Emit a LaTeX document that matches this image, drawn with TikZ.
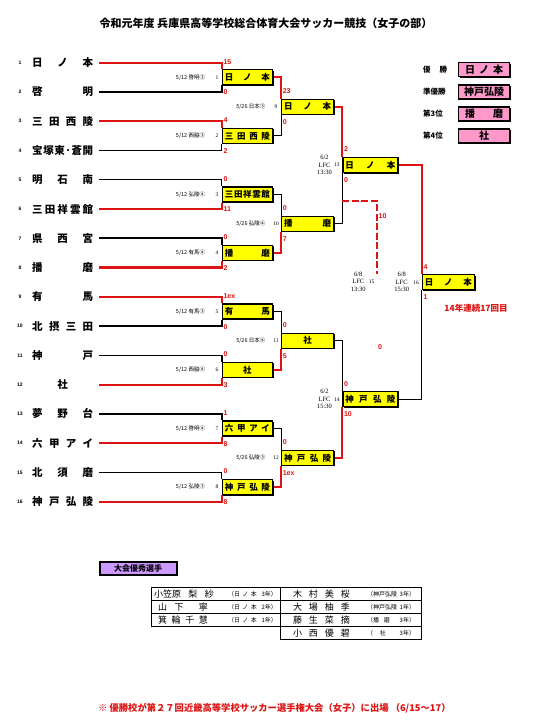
\documentclass[tikz,border=0pt]{standalone}
\usepackage{fontspec}
\setmainfont{Noto Sans CJK JP}
\newfontfamily\lat{Liberation Sans}
\newfontfamily\ser{Liberation Serif}
\usetikzlibrary{backgrounds,shadows}
\definecolor{rd}{RGB}{222,20,20}
\definecolor{pk}{RGB}{255,153,204}
\definecolor{pu}{RGB}{204,153,255}
\definecolor{yl}{RGB}{255,255,0}
\newcommand{\spr}[2]{\makebox[#1][s]{#2}}
\begin{document}
\begin{tikzpicture}[x=1pt,y=-1pt,
 team/.style={inner sep=0pt, anchor=west, font=\fontsize{10.5}{11}\selectfont\bfseries},
 tnum/.style={inner sep=0pt, font=\lat\fontsize{5}{6}\selectfont\bfseries},
 wbox/.style={draw, line width=1.2pt, fill=yl, inner sep=0pt, minimum height=15pt, anchor=west,
   font=\fontsize{8.5}{9}\selectfont\bfseries,
   drop shadow={shadow xshift=0.9pt, shadow yshift=-0.9pt, opacity=1, fill=black}},
 b1/.style={wbox, minimum width=50.3pt},
 b2/.style={wbox, minimum width=52pt},
 b3/.style={wbox, minimum width=55pt},
 b4/.style={wbox, minimum width=52.3pt},
 sc/.style={inner sep=0pt, anchor=west, text=rd, font=\lat\fontsize{7}{8}\selectfont\bfseries},
 dt/.style={inner sep=0pt, anchor=east, font=\fontsize{5.5}{6}\selectfont},
 mn/.style={inner sep=0pt, font=\ser\fontsize{5.5}{6}\selectfont},
 lfc/.style={inner sep=0pt, align=center, font=\ser\fontsize{6.5}{7.5}\selectfont},
 wl/.style={draw=rd, line width=2.2pt},
 ll/.style={draw=black, line width=1.7pt},
 llt/.style={draw=black, line width=1pt},
 cl/.style={draw=black, line width=1pt},
 lg/.style={inner sep=0pt, anchor=west, font=\fontsize{7.5}{8}\selectfont\bfseries},
 pbox/.style={draw, line width=1.2pt, fill=pk, inner sep=0pt, minimum width=51pt, minimum height=14pt, anchor=west,
   font=\fontsize{10}{11}\selectfont\bfseries,
   drop shadow={shadow xshift=0.9pt, shadow yshift=-0.9pt, opacity=1, fill=black}},
 nm/.style={inner sep=0pt, font=\fontsize{9}{10}\selectfont},
 af/.style={inner sep=0pt, font=\fontsize{6}{7}\selectfont},
]
\useasboundingbox (0,0) rectangle (533,724);

% title
\node[font=\fontsize{11}{12}\selectfont\bfseries] (title) at (266,23) {令和元年度 兵庫県高等学校総合体育大会サッカー競技（女子の部）};

% teams
\node[tnum] (n1) at (20,62.70) {1};
\node[tnum] (n2) at (20,91.97) {2};
\node[tnum] (n3) at (20,121.24) {3};
\node[tnum] (n4) at (20,150.51) {4};
\node[tnum] (n5) at (20,179.78) {5};
\node[tnum] (n6) at (20,209.05) {6};
\node[tnum] (n7) at (20,238.32) {7};
\node[tnum] (n8) at (20,267.59) {8};
\node[tnum] (n9) at (20,296.86) {9};
\node[tnum] (n10) at (20,326.13) {10};
\node[tnum] (n11) at (20,355.40) {11};
\node[tnum] (n12) at (20,384.67) {12};
\node[tnum] (n13) at (20,413.94) {13};
\node[tnum] (n14) at (20,443.21) {14};
\node[tnum] (n15) at (20,472.48) {15};
\node[tnum] (n16) at (20,501.75) {16};

\node[team] (t1) at (32,62.70) {\spr{61pt}{日\hfill ノ\hfill 本}};
\node[team] (t2) at (32,91.97) {\spr{61pt}{啓\hfill 明}};
\node[team] (t3) at (32,121.24) {\spr{61pt}{三\hfill 田\hfill 西\hfill 陵}};
\node[team] (t4) at (32,150.51) {\spr{61pt}{宝\hfill 塚\hfill 東\hfill ･\hfill 蒼\hfill 開}};
\node[team] (t5) at (32,179.78) {\spr{61pt}{明\hfill 石\hfill 南}};
\node[team] (t6) at (32,209.05) {\spr{61pt}{三\hfill 田\hfill 祥\hfill 雲\hfill 館}};
\node[team] (t7) at (32,238.32) {\spr{61pt}{県\hfill 西\hfill 宮}};
\node[team] (t8) at (32,267.59) {\spr{61pt}{播\hfill 磨}};
\node[team] (t9) at (32,296.86) {\spr{61pt}{有\hfill 馬}};
\node[team] (t10) at (32,326.13) {\spr{61pt}{北\hfill 摂\hfill 三\hfill 田}};
\node[team] (t11) at (32,355.40) {\spr{61pt}{神\hfill 戸}};
\node[team] (t12) at (32,384.67) {\makebox[61pt][c]{社}};
\node[team] (t13) at (32,413.94) {\spr{61pt}{夢\hfill 野\hfill 台}};
\node[team] (t14) at (32,443.21) {\spr{61pt}{六\hfill 甲\hfill ア\hfill イ}};
\node[team] (t15) at (32,472.48) {\spr{61pt}{北\hfill 須\hfill 磨}};
\node[team] (t16) at (32,501.75) {\spr{61pt}{神\hfill 戸\hfill 弘\hfill 陵}};

% round 1 boxes
\node[b1] (m1) at (221.7,77.34) {\spr{45pt}{日\hfill ノ\hfill 本}};
\node[b1] (m2) at (221.7,135.88) {\spr{45pt}{三\hfill 田\hfill 西\hfill 陵}};
\node[b1] (m3) at (221.7,194.42) {\spr{45pt}{三\hfill 田\hfill 祥\hfill 雲\hfill 館}};
\node[b1] (m4) at (221.7,252.96) {\spr{45pt}{播\hfill 磨}};
\node[b1] (m5) at (221.7,311.50) {\spr{45pt}{有\hfill 馬}};
\node[b1] (m6) at (221.7,370.04) {社};
\node[b1] (m7) at (221.7,428.58) {\spr{45pt}{六\hfill 甲\hfill ア\hfill イ}};
\node[b1] (m8) at (221.7,487.12) {\spr{45pt}{神\hfill 戸\hfill 弘\hfill 陵}};
% round 2
\node[b2] (m9) at (281,106.61) {\spr{47pt}{日\hfill ノ\hfill 本}};
\node[b2] (m10) at (281,223.69) {\spr{47pt}{播\hfill 磨}};
\node[b2] (m11) at (281,340.77) {社};
\node[b2] (m12) at (281,457.85) {\spr{47pt}{神\hfill 戸\hfill 弘\hfill 陵}};
% round 3
\node[b3] (m13) at (342.3,165.15) {\spr{50pt}{日\hfill ノ\hfill 本}};
\node[b3] (m14) at (342.3,399.31) {\spr{50pt}{神\hfill 戸\hfill 弘\hfill 陵}};
% final
\node[b4] (m16) at (421.7,282.23) {\spr{47pt}{日\hfill ノ\hfill 本}};

% dates and match numbers
\foreach \m/\d in {1/啓明③,2/西脇③,3/弘陵④,4/有馬④,5/有馬③,6/西脇④,7/啓明④,8/弘陵③}{
  \node[dt] at ([xshift=-16.5pt]m\m.west) {5/12 \d};
  \node[mn] at ([xshift=-4.6pt]m\m.west) {\m};
}
\foreach \m/\d in {9/日本③,10/弘陵④,11/日本④,12/弘陵③}{
  \node[dt] at ([xshift=-15.5pt]m\m.west) {5/26 \d};
  \node[mn] at ([xshift=-5pt]m\m.west) {\m};
}
\node[lfc] at ([xshift=-17.8pt]m13.west) {6/2\\LFC\\13:30};
\node[mn] at ([xshift=-5.4pt]m13.west) {13};
\node[lfc] at ([xshift=-17.8pt]m14.west) {6/2\\LFC\\15:30};
\node[mn] at ([xshift=-5.4pt]m14.west) {14};
\node[lfc] at ([xshift=-20pt]m16.west) {6/8\\LFC\\15:30};
\node[mn] at ([xshift=-5.6pt]m16.west) {16};

% third place
\coordinate (d0) at (342.3,201);
\coordinate (d1) at (377,273.5);
\node[lfc] (l15) at (358.3,281.7) {6/8\\LFC\\13:30};
\node[mn] at (371.7,281.7) {15};
\node[sc] at (378.5,216) {10};
\node[sc] at (378,347) {0};

% scores
\foreach \m/\a/\b in {1/15/0,2/4/2,3/0/11,4/0/2,5/1ex/0,6/0/3,7/1/8,8/0/8,9/23/0,10/0/7,11/0/5,12/0/1ex,13/2/0,14/0/10,16/4/1}{
  \node[sc] at ([xshift=1.6pt,yshift=7.5pt]m\m.north west) {\a};
  \node[sc] at ([xshift=1.6pt,yshift=-7pt]m\m.south west) {\b};
}

\node[text=rd, font=\fontsize{8.5}{9}\selectfont\bfseries] (streak) at (476,308.3) {14年連続17回目};

% legend
\node[lg] (g1) at (423,69.7) {\spr{24pt}{優\hfill 勝}};
\node[lg] (g2) at (423,92) {準優勝};
\node[lg] (g3) at (423,114) {第3位};
\node[lg] (g4) at (423,136) {第4位};
\node[pbox] (p1) at (458,69.7) {\spr{38pt}{日\hfill ノ\hfill 本}};
\node[pbox] (p2) at (458,92) {神戸弘陵};
\node[pbox] (p3) at (458,114) {\spr{38pt}{播\hfill 磨}};
\node[pbox] (p4) at (458,136) {社};

% excellent players
\node[draw, line width=2pt, fill=pu, minimum width=77pt, minimum height=13pt, inner sep=0pt, anchor=west,
  font=\fontsize{8}{9}\selectfont\bfseries] (aw) at (98.5,568) {大会優秀選手};
\draw[line width=0.9pt] (151.7,587.3) rectangle (280,626.3);
\draw[line width=0.9pt] (151.7,600.3) -- (280,600.3) (151.7,613.3) -- (280,613.3);
\draw[line width=0.9pt] (280,587.3) rectangle (421.7,639.3);
\draw[line width=0.9pt] (280,600.3) -- (421.7,600.3) (280,613.3) -- (421.7,613.3) (280,626.3) -- (421.7,626.3);
\node[nm] (a1) at (184,593.8) {\spr{60pt}{小笠原\hfill 梨\hfill 紗}};
\node[nm] (a2) at (183,606.8) {\spr{50pt}{山\hfill 下\hfill\hfill 寧}};
\node[nm] (a3) at (183,619.8) {\spr{50pt}{箕\hfill 輪\hfill 千\hfill 慧}};
\node[af] (f1) at (252.5,593.8) {\spr{49pt}{（日\hfill ノ\hfill 本\hfill\hfill 3年）}};
\node[af] (f2) at (252.5,606.8) {\spr{49pt}{（日\hfill ノ\hfill 本\hfill\hfill 2年）}};
\node[af] (f3) at (252.5,619.8) {\spr{49pt}{（日\hfill ノ\hfill 本\hfill\hfill 1年）}};
\node[nm] (a4) at (321.5,593.8) {\spr{57pt}{木\hfill 村\hfill 美\hfill 桜}};
\node[nm] (a5) at (321.5,606.8) {\spr{57pt}{大\hfill 場\hfill 柚\hfill 季}};
\node[nm] (a6) at (321.5,619.8) {\spr{57pt}{藤\hfill 生\hfill 菜\hfill 摘}};
\node[nm] (a7) at (321.5,632.8) {\spr{57pt}{小\hfill 西\hfill 優\hfill 碧}};
\node[af] (f4) at (391,593.8) {\spr{48pt}{（神戸弘陵\hfill 3年）}};
\node[af] (f5) at (391,606.8) {\spr{48pt}{（神戸弘陵\hfill 1年）}};
\node[af] (f6) at (391,619.8) {\spr{48pt}{（播\hfill 磨\hfill\hfill 3年）}};
\node[af] (f7) at (391,632.8) {\spr{48pt}{（\hfill 社\hfill\hfill 3年）}};

% note
\node[anchor=west, inner sep=0pt, text=rd, font=\fontsize{9.3}{10}\selectfont\bfseries] (note) at (98,708)
  {※ 優勝校が第２７回近畿高等学校サッカー選手権大会（女子）に出場 （6/15～17）};

% connectors
\begin{pgfonlayer}{background}
\fill[white] (0,0) rectangle (533,724);
% round 1
\draw[wl] ([xshift=6pt]t1.east) -| (m1.north west);
\draw[ll] ([xshift=6pt]t2.east) -| (m1.south west);
\draw[wl] ([xshift=6pt]t3.east) -| (m2.north west);
\draw[llt] ([xshift=6pt]t4.east) -| (m2.south west);
\draw[llt] ([xshift=6pt]t5.east) -| (m3.north west);
\draw[wl] ([xshift=6pt]t6.east) -| (m3.south west);
\draw[ll] ([xshift=6pt]t7.east) -| (m4.north west);
\draw[wl] ([xshift=6pt]t8.east) -| (m4.south west);
\draw[wl] ([xshift=6pt]t9.east) -| (m5.north west);
\draw[ll] ([xshift=6pt]t10.east) -| (m5.south west);
\draw[ll] ([xshift=6pt]t11.east) -| (m6.north west);
\draw[wl] ([xshift=6pt]t12.east) -| (m6.south west);
\draw[ll] ([xshift=6pt]t13.east) -| (m7.north west);
\draw[wl] ([xshift=6pt]t14.east) -| (m7.south west);
\draw[llt] ([xshift=6pt]t15.east) -| (m8.north west);
\draw[wl] ([xshift=6pt]t16.east) -| (m8.south west);
% round 2
\draw[wl] (m1.east) -| (m9.north west);
\draw[cl] (m2.east) -| (m9.south west);
\draw[cl] (m3.east) -| (m10.north west);
\draw[wl] (m4.east) -| (m10.south west);
\draw[cl] (m5.east) -| (m11.north west);
\draw[wl] (m6.east) -| (m11.south west);
\draw[cl] (m7.east) -| (m12.north west);
\draw[wl] (m8.east) -| (m12.south west);
% round 3
\draw[wl] (m9.east) -| (m13.north west);
\draw[cl] (m10.east) -| (m13.south west);
\draw[cl] (m11.east) -| (m14.north west);
\draw[wl] (m12.east) -| (m14.south west);
% final
\draw[wl] (m13.east) -| (m16.north west);
\draw[cl] (m14.east) -| (m16.south west);
% third place
\draw[draw=rd, line width=2.3pt, dash pattern=on 7pt off 2.5pt] (d0) -| (d1);
\end{pgfonlayer}
\end{tikzpicture}
\end{document}
